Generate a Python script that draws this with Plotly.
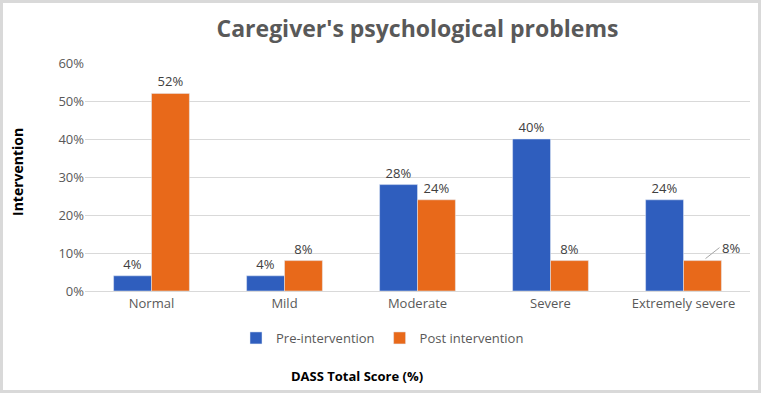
import plotly.graph_objects as go

categories = ["Normal", "Mild", "Moderate", "Severe", "Extremely severe"]
pre_values = [0.04, 0.04, 0.28, 0.40, 0.24]
post_values = [0.52, 0.08, 0.24, 0.08, 0.08]
y_ticks = [0, 0.1, 0.2, 0.3, 0.4, 0.5, 0.6]
y_tick_labels = ["0%", "10%", "20%", "30%", "40%", "50%", "60%"]

W, H = 761, 393
L, R, T, B = 85, 11, 63, 102
pw, ph = W - L - R, H - T - B

BLUE = "#2F5EBE"
ORANGE = "#E8691A"

post_text = [f"{v*100:.0f}%" for v in post_values]
post_text[-1] = ""  # last label drawn with leader line

fig = go.Figure()
fig.add_bar(x=categories, y=pre_values, name="Pre-intervention", marker_color=BLUE,
            text=[f"{v*100:.0f}%" for v in pre_values], textposition="outside",
            textfont=dict(size=13, color="#404040", family="Open Sans"), cliponaxis=False)
fig.add_bar(x=categories, y=post_values, name="Post intervention", marker_color=ORANGE,
            text=post_text, textposition="outside",
            textfont=dict(size=13, color="#404040", family="Open Sans"), cliponaxis=False)

# leader-line label for last post value
fig.add_annotation(x=categories[-1], y=post_values[-1], xshift=22, yshift=2,
                   text=f"{post_values[-1]*100:.0f}%", showarrow=True, arrowhead=0,
                   arrowcolor="#a6a6a6", arrowwidth=1, ax=14, ay=-11,
                   xanchor="left", font=dict(size=13, color="#404040", family="Open Sans"))

fig.update_layout(
    width=W, height=H,
    margin=dict(l=L, r=R, t=T, b=B),
    paper_bgcolor="white", plot_bgcolor="white",
    barmode="group", bargap=0.43, bargroupgap=0,
    font=dict(family="Open Sans", color="#595959", size=13),
    title=dict(text="<b>Caregiver's psychological problems</b>", x=0.5, xref="paper",
               y=1 - 29 / H, yanchor="middle",
               font=dict(size=23, color="#595959", family="Open Sans")),
    legend=dict(orientation="h", x=(236 - L) / pw, y=(H - B - 338) / ph, xanchor="left",
                yanchor="middle", font=dict(size=13, color="#595959"),
                itemwidth=30, tracegroupgap=0),
    showlegend=True,
)
fig.update_yaxes(range=[0, 0.6], tickvals=y_ticks, ticktext=y_tick_labels,
                 showgrid=True, gridcolor="#d9d9d9", gridwidth=1, zeroline=False,
                 showline=False, ticks="", ticklen=0,
                 tickfont=dict(size=13, color="#595959"))
fig.update_xaxes(showline=True, linecolor="#d9d9d9", linewidth=1, ticks="",
                 tickfont=dict(size=13, color="#595959"))

fig.add_annotation(text="<b>Intervention</b>", xref="paper", yref="paper",
                   x=(17 - L) / pw, y=(H - B - 172) / ph, textangle=-90, showarrow=False,
                   font=dict(size=14, color="black"), xanchor="center", yanchor="middle")
fig.add_annotation(text="<b>DASS Total Score (%)</b>", xref="paper", yref="paper",
                   x=(357 - L) / pw, y=(H - B - 376) / ph, showarrow=False,
                   font=dict(size=13, color="black"), xanchor="center", yanchor="middle")

# chart border
fig.add_shape(type="rect", xref="paper", yref="paper",
              x0=(1.5 - L) / pw, x1=(W - 1.5 - L) / pw,
              y0=(H - B - (H - 1.5)) / ph, y1=(H - B - 1.5) / ph,
              line=dict(color="#d9d9d9", width=3), layer="below")

fig.write_html("out.html", config={"displayModeBar": False},
               post_script="document.body.style.margin='0';document.body.style.overflow='hidden';")
